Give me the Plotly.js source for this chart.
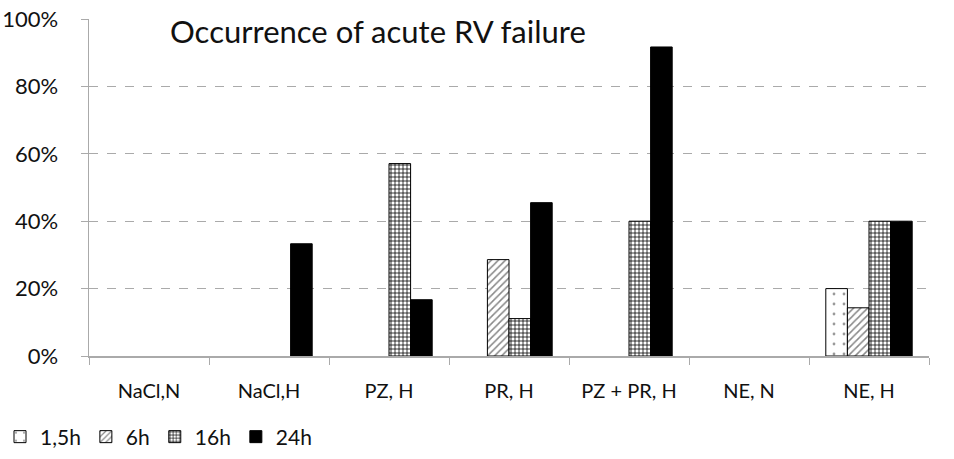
<!DOCTYPE html>
<html>
<head>
<meta charset="utf-8">
<script src="https://cdn.plot.ly/plotly-3.0.1.min.js"></script>
<style>
  html, body { margin: 0; padding: 0; background: #fff; }
  #chart { width: 954px; height: 459px; }
</style>
</head>
<body>
<div id="chart"></div>
<script>
const groups = ['NaCl,N', 'NaCl,H', 'PZ, H', 'PR, H', 'PZ + PR, H', 'NE, N', 'NE, H']
const seriesNames = ['1,5h', '6h', '16h', '24h']
const h1_5 = [0, 0, 0, 0, 0, 0, 0.20]
const h6 = [0, 0, 0, 0.286, 0, 0, 0.143]
const h16 = [0, 0, 0.571, 0.111, 0.40, 0, 0.40]
const h24 = [0, 0.333, 0.167, 0.455, 0.917, 0, 0.40]
const yTicks = [0, 0.2, 0.4, 0.6, 0.8, 1.0]

const fontFam = 'Lato, "Open Sans", sans-serif'

// fill style per series, same order as seriesNames
const looks = [
  { color: '#fff', pattern: { shape: '.', fgcolor: '#999', bgcolor: '#fff', size: 10, solidity: 0.06 } },
  { color: '#fff', pattern: { shape: '/', fgcolor: '#888', bgcolor: '#fff', size: 5, solidity: 0.3 } },
  { color: '#fff', pattern: { shape: '+', fgcolor: '#000', bgcolor: '#fff', size: 4, solidity: 0.35 } },
  { color: '#000' }
]

const values = [h1_5, h6, h16, h24]
const traces = values.map((v, i) => ({
  type: 'bar',
  name: seriesNames[i],
  x: groups,
  // 0% bars are not drawn at all (no outline on the baseline)
  y: v.map(d => d > 0 ? d : null),
  marker: Object.assign({ line: { color: '#000', width: 1 } }, looks[i]),
  hoverinfo: 'skip'
}))

const layout = {
  width: 954,
  height: 459,
  margin: { l: 89, r: 25, t: 19, b: 103 },
  paper_bgcolor: '#fff',
  plot_bgcolor: '#fff',
  barmode: 'group',
  bargap: 0.28,
  bargroupgap: 0,
  font: { family: fontFam, color: '#111' },
  title: {
    text: 'Occurrence of acute RV failure',
    font: { family: fontFam, size: 31, color: '#111' },
    x: 170 / 954, xanchor: 'left', xref: 'container',
    y: 1 - 32 / 459, yanchor: 'middle', yref: 'container'
  },
  xaxis: {
    automargin: false,
    showline: true, linecolor: '#aaa', linewidth: 1.5,
    ticks: 'outside', tickson: 'boundaries', ticklen: 7, tickcolor: '#aaa',
    ticklabelstandoff: 16,
    tickfont: { family: fontFam, size: 20, color: '#111' },
    showgrid: false, zeroline: false
  },
  yaxis: {
    automargin: false,
    range: [0, 1], tickvals: yTicks, tickformat: '.0%',
    showline: true, linecolor: '#aaa', linewidth: 1.5,
    ticks: 'outside', ticklen: 7, tickcolor: '#aaa',
    ticklabelstandoff: 18,
    tickfont: { family: fontFam, size: 22, color: '#111' },
    showgrid: true, gridcolor: '#aaa', griddash: 'dash', gridwidth: 1,
    zeroline: false
  },
  showlegend: true,
  legend: {
    orientation: 'h',
    xref: 'container', yref: 'container',
    x: -6 / 954, xanchor: 'left',
    y: 1 - 437 / 459, yanchor: 'middle',
    font: { family: fontFam, size: 21, color: '#111' },
    itemwidth: 30, tracegroupgap: 0,
    traceorder: 'normal'
  }
}

Plotly.newPlot('chart', traces, layout, { displayModeBar: false, staticPlot: true })
</script>
</body>
</html>
